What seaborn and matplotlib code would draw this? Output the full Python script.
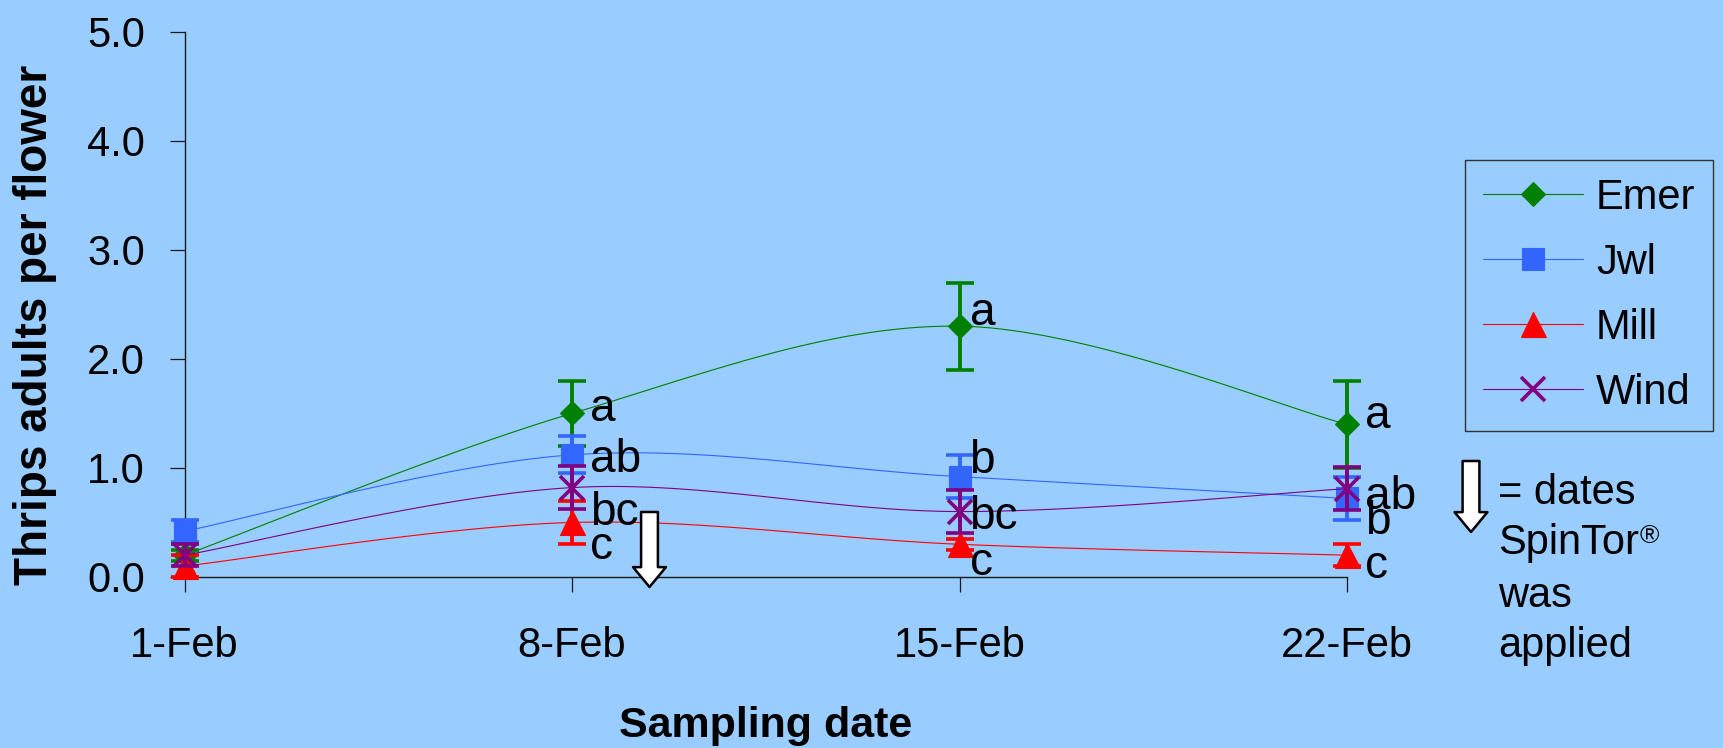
import numpy as np
import pandas as pd
import matplotlib
matplotlib.use("Agg")
import matplotlib.pyplot as plt
from matplotlib.lines import Line2D
from matplotlib.ticker import FormatStrFormatter
import seaborn as sns

# ---- data -------------------------------------------------------------
dates = ["1-Feb", "8-Feb", "15-Feb", "22-Feb"]
series_names = ["Emer", "Jwl", "Mill", "Wind"]

emer = [0.2, 1.5, 2.3, 1.4]
emer_se = [0.05, 0.3, 0.4, 0.4]
jwl = [0.42, 1.12, 0.92, 0.72]
jwl_se = [0.1, 0.17, 0.2, 0.2]
mill = [0.1, 0.5, 0.3, 0.2]
mill_se = [0.1, 0.2, 0.05, 0.1]
wind = [0.2, 0.82, 0.6, 0.81]
wind_se = [0.1, 0.2, 0.2, 0.2]

emer_letters = ["", "a", "a", "a"]
jwl_letters = ["", "ab", "b", "b"]
mill_letters = ["", "c", "c", "c"]
wind_letters = ["", "bc", "bc", "ab"]

# day of February on which SpinTor was sprayed
spray_days = [9.4]

# ---- styling ----------------------------------------------------------
BG = "#99CCFF"
colors = {"Emer": "#008000", "Jwl": "#3366FF", "Mill": "#FF0000", "Wind": "#800080"}
markers = {"Emer": "D", "Jwl": "s", "Mill": "^", "Wind": "x"}
msizes = {"Emer": 12.0, "Jwl": 15.5, "Mill": 18.0, "Wind": 17.0}

# label nudges (pixels): horizontal per date, vertical per series/date
label_dx = [18, 18, 10, 18]
label_dy = {
    "Emer": [0, -8, 1, -4],
    "Jwl": [0, -17, 4, -36],
    "Mill": [0, -37, -31, -23],
    "Wind": [0, -37, -17, -20],
}

sns.set_theme(style="ticks")
plt.rcParams["font.family"] = ["Liberation Sans", "DejaVu Sans"]
plt.rcParams["text.color"] = "black"

values = {"Emer": emer, "Jwl": jwl, "Mill": mill, "Wind": wind}
errors = {"Emer": emer_se, "Jwl": jwl_se, "Mill": mill_se, "Wind": wind_se}
letters = {"Emer": emer_letters, "Jwl": jwl_letters, "Mill": mill_letters, "Wind": wind_letters}


def smooth_curve(y, n=40):
    """Cubic Bezier smoothing through every point (Catmull-Rom style tangents)."""
    y = np.asarray(y, dtype=float)
    x = np.arange(len(y), dtype=float)
    P = np.column_stack([np.r_[x[0], x, x[-1]], np.r_[y[0], y, y[-1]]])
    t = np.linspace(0, 1, n)[:, None]
    out = []
    for i in range(len(y) - 1):
        p0, p3 = P[i + 1], P[i + 2]
        c1 = p0 + (P[i + 2] - P[i]) / 6.0
        c2 = p3 - (P[i + 3] - P[i + 1]) / 6.0
        seg = ((1 - t) ** 3) * p0 + 3 * ((1 - t) ** 2) * t * c1 + 3 * (1 - t) * t ** 2 * c2 + t ** 3 * p3
        out.append(seg if i == 0 else seg[1:])
    return np.vstack(out)


W, H = 1723, 748
fig = plt.figure(figsize=(W / 100, H / 100), dpi=100, facecolor=BG)
ax = fig.add_axes([184.5 / W, 1 - 577 / H, (1347 - 184.5) / W, (577 - 31.7) / H])
ax.set_facecolor(BG)

xpos = np.arange(len(dates))

for k, name in enumerate(series_names):
    col = colors[name]
    z = 3 + k
    curve = smooth_curve(values[name])
    df = pd.DataFrame({"x": curve[:, 0], "y": curve[:, 1]})
    sns.lineplot(data=df, x="x", y="y", sort=False, estimator=None, color=col,
                 linewidth=0.8, ax=ax, zorder=z, legend=False)
    eb = ax.errorbar(xpos, values[name], yerr=errors[name], fmt="none", ecolor=col,
                     elinewidth=2.8, capsize=10, capthick=2.6, zorder=z)
    for art in eb.get_children():
        art.set_clip_on(False)
    mk = markers[name]
    ax.plot(xpos, values[name], ls="none", marker=mk, ms=msizes[name],
            mfc=col, mec=col, mew=2.6 if mk == "x" else 0.8, zorder=z + 0.5, clip_on=False)
    for i, lab in enumerate(letters[name]):
        if lab:
            ax.annotate(lab, xy=(xpos[i], values[name][i]),
                        xytext=(label_dx[i], label_dy[name][i]), textcoords="offset pixels",
                        ha="left", va="baseline", fontsize=33, color="black",
                        zorder=20, annotation_clip=False)

ax.set_xlim(0, len(dates) - 1)
ax.set_ylim(0, 5)
ax.set_xticks(xpos)
ax.set_xticklabels(dates)
ax.set_yticks(np.arange(0, 5.01, 1.0))
ax.yaxis.set_major_formatter(FormatStrFormatter("%.1f"))
ax.set_xlabel("")
ax.set_ylabel("")

for side in ["top", "right"]:
    ax.spines[side].set_visible(False)
for side in ["left", "bottom"]:
    ax.spines[side].set_color("#1a1a1a")
    ax.spines[side].set_linewidth(1.0)
ax.tick_params(axis="both", direction="out", length=10.5, width=0.9, color="#1a1a1a",
               labelsize=30, labelcolor="black")
ax.tick_params(axis="y", pad=18)
ax.tick_params(axis="x", pad=25)

ax.set_ylabel("Thrips adults per flower", fontsize=33, fontweight="bold", color="black")
ax.yaxis.set_label_coords((57 - 184.5) / (1347 - 184.5), (577 - 325) / (577 - 31.7))
ax.set_xlabel("Sampling date", fontsize=31, fontweight="bold", color="black")
ax.xaxis.set_label_coords(0.5, (577 - 706) / (577 - 31.7))

# SpinTor application arrows
arrow_style = dict(arrowstyle="simple,head_length=1.3,head_width=2.15,tail_width=1.1",
                   mutation_scale=11, fc="white", ec="black", lw=1.8,
                   shrinkA=0, shrinkB=0)
for day in spray_days:
    xa = (day - 1) / 7.0
    ax.annotate("", xy=(xa, -10 / 545.3), xytext=(xa, 65 / 545.3),
                xycoords=("data", "axes fraction"), textcoords=("data", "axes fraction"),
                arrowprops=arrow_style, annotation_clip=False, zorder=25)

# legend
handles = [Line2D([], [], color=colors[n], lw=0.8, marker=markers[n], ms=msizes[n],
                  mfc=colors[n], mec=colors[n], mew=2.6 if markers[n] == "x" else 0.8)
           for n in series_names]
leg = fig.legend(handles, series_names, loc="upper left",
                 bbox_to_anchor=(1465 / W, 1 - 160 / H), bbox_transform=fig.transFigure,
                 fontsize=30, frameon=True, fancybox=False, framealpha=1,
                 handlelength=2.4, handletextpad=0.31, borderpad=0.43,
                 labelspacing=0.6, borderaxespad=0, numpoints=1, labelcolor="black")
leg.get_frame().set_facecolor(BG)
leg.get_frame().set_edgecolor("#333333")
leg.get_frame().set_linewidth(1.0)

# key for the arrows
fig.add_artist(plt.Annotation("", xy=(1471 / W, 1 - 532 / H), xytext=(1471 / W, 1 - 461 / H),
                              xycoords="figure fraction", textcoords="figure fraction",
                              arrowprops=arrow_style))
key_lines = ["= dates", "SpinTor", "was", "applied"]
key_baselines = [504, 554, 606.7, 656.7]
txts = []
for s, b in zip(key_lines, key_baselines):
    txts.append(fig.text(1498 / W, 1 - b / H, s, fontsize=30, ha="left", va="baseline",
                         color="black"))
fig.canvas.draw()
r = fig.canvas.get_renderer()
bb = txts[1].get_window_extent(renderer=r)
fig.text((bb.x1 + 1) / W, 1 - 543 / H, "\u00ae", fontsize=19, ha="left", va="baseline",
         color="black")

fig.savefig("out.png", dpi=100, facecolor=BG)
